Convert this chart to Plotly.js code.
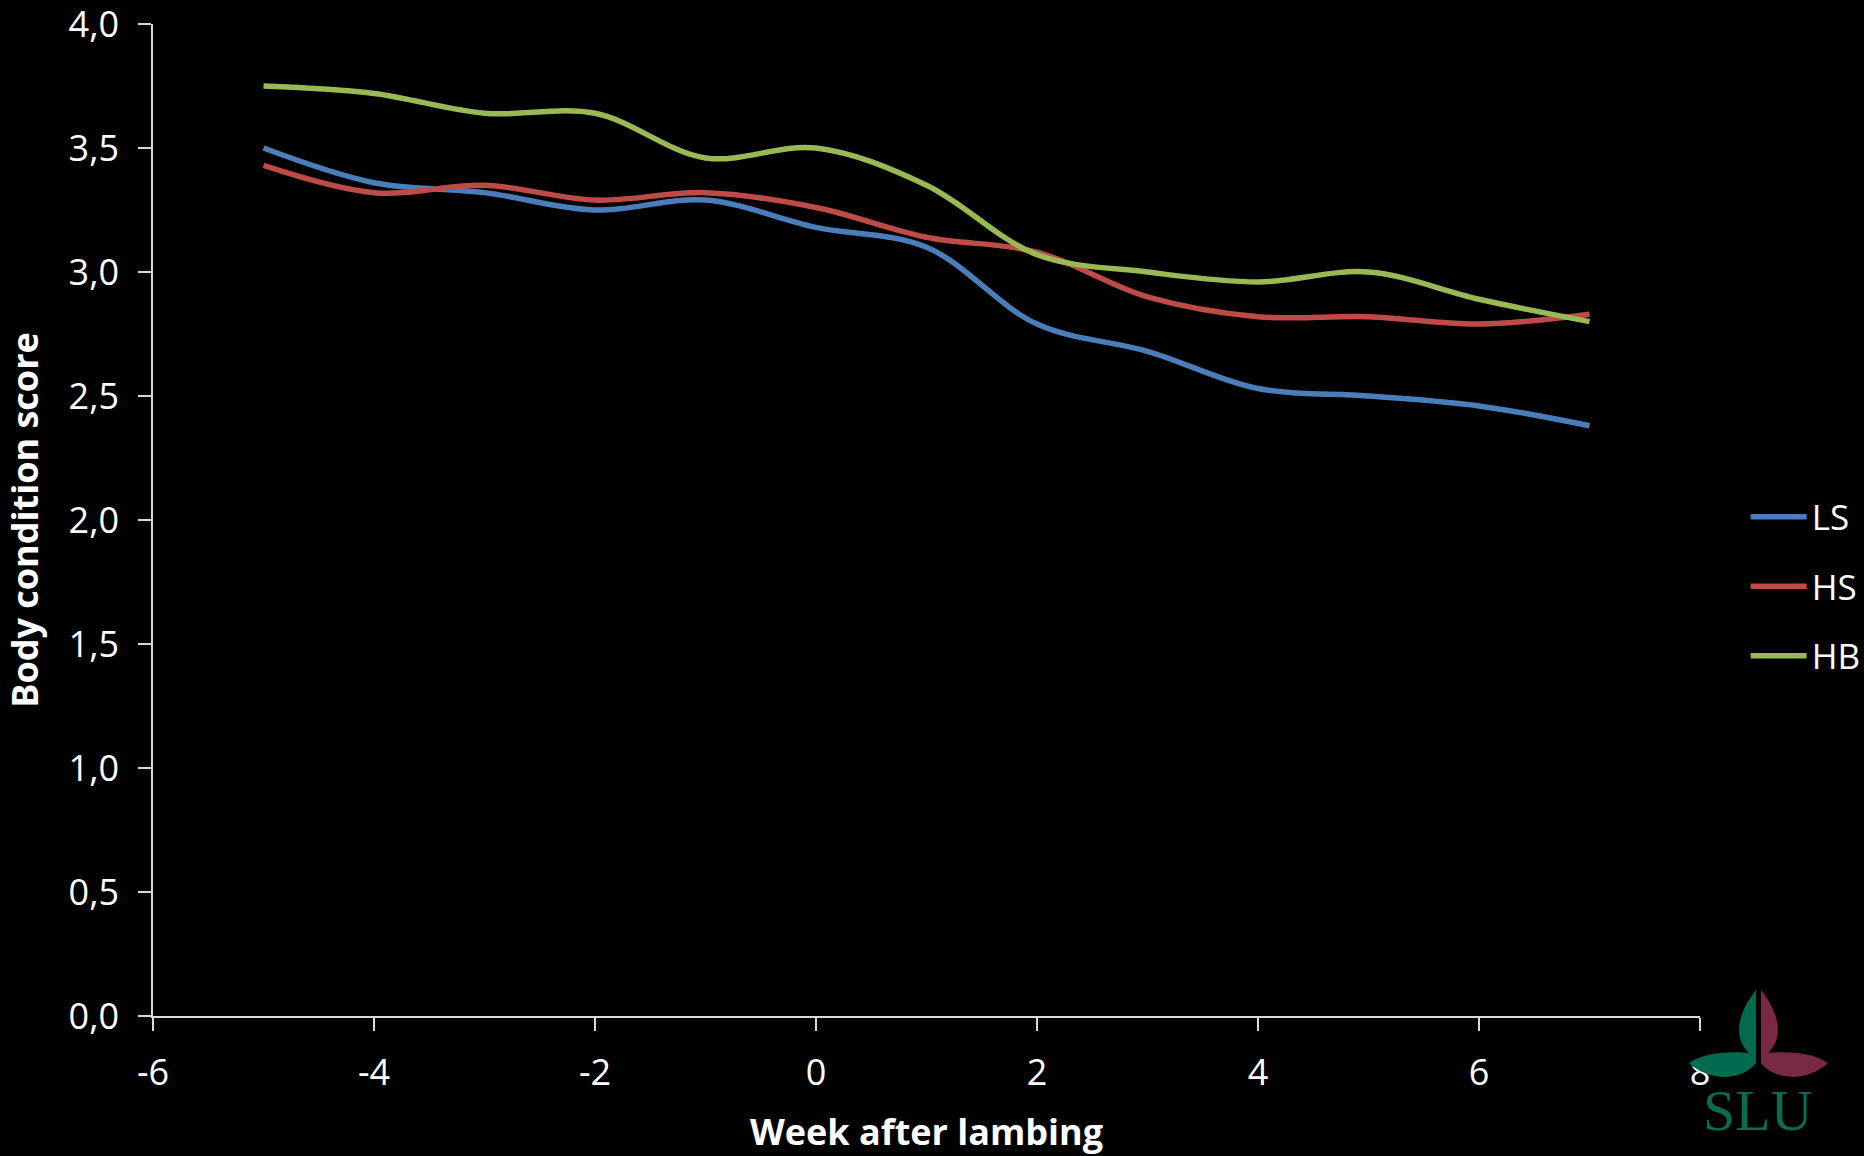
<!DOCTYPE html>
<html>
<head>
<meta charset="utf-8">
<script src="https://cdn.plot.ly/plotly-3.0.1.min.js"></script>
<style>
  html, body { margin: 0; padding: 0; background: #000; }
  #chart { width: 1864px; height: 1156px; }
</style>
</head>
<body>
<div id="chart"></div>
<script>
// ---- data ----
const weeks = [-5, -4, -3, -2, -1, 0, 1, 2, 3, 4, 5, 6, 7];
const seriesNames = ["LS", "HS", "HB"];
const lsValues = [3.50, 3.36, 3.32, 3.25, 3.29, 3.18, 3.10, 2.79, 2.68, 2.53, 2.50, 2.46, 2.38];
const hsValues = [3.43, 3.32, 3.35, 3.29, 3.32, 3.26, 3.14, 3.08, 2.90, 2.82, 2.82, 2.79, 2.83];
const hbValues = [3.75, 3.72, 3.64, 3.64, 3.46, 3.50, 3.35, 3.07, 3.00, 2.96, 3.00, 2.89, 2.80];
const xTickValues = [-6, -4, -2, 0, 2, 4, 6, 8];
const xTickLabels = ["-6", "-4", "-2", "0", "2", "4", "6", "8"];
const yTickValues = [0, 0.5, 1, 1.5, 2, 2.5, 3, 3.5, 4];
const xTitle = "Week after lambing";
const yTitle = "Body condition score";
const logoText = "SLU";

// ---- layout constants ----
const W = 1864, Hh = 1156;
const M = { l: 153, r: 164, t: 24, b: 140, autoexpand: false };
const PW = W - M.l - M.r, PH = Hh - M.t - M.b;
const px = x => ((x - M.l) / PW).toFixed(5);
const py = y => ((M.t + PH - y) / PH).toFixed(5);
const font = "Open Sans, Noto Sans, sans-serif";
const axisColor = "#d9d9d9";
const colors = ["#4a7ebb", "#be4b48", "#98b954"];
const values = [lsValues, hsValues, hbValues];

const traces = seriesNames.map((name, i) => ({
  type: "scatter",
  mode: "lines",
  name: name,
  x: weeks,
  y: values[i],
  legendgroup: "g" + i,
  line: { color: colors[i], width: 5.5, shape: "spline", smoothing: 1 },
  hoverinfo: "x+y+name"
}));

// logo leaf paths (pixel coords -> paper)
function leafPath(mirror) {
  const mx = x => mirror ? (3517 - x) : x;
  const P = (x, y) => px(mx(x)) + "," + py(y);
  return "M" + P(1756, 990) +
    " C" + P(1740, 1010) + " " + P(1731, 1036) + " " + P(1749, 1053) +
    " C" + P(1733, 1051) + " " + P(1704, 1052) + " " + P(1689, 1063) +
    " C" + P(1708, 1081) + " " + P(1741, 1082) + " " + P(1756, 1063) + " Z";
}

const layout = {
  width: W, height: Hh,
  paper_bgcolor: "#000000",
  plot_bgcolor: "#000000",
  separators: ", ",
  margin: M,
  showlegend: true,
  font: { family: font, color: "#ffffff", size: 36 },
  xaxis: {
    range: [-6, 8],
    tickvals: xTickValues,
    ticktext: xTickLabels,
    ticks: "outside", ticklen: 13, tickwidth: 1.5, tickcolor: axisColor,
    showline: true, linecolor: axisColor, linewidth: 2,
    showgrid: false, zeroline: false,
    tickfont: { family: font, size: 36, color: "#ffffff" },
    ticklabelstandoff: 11,
    ticklabeloverflow: "allow",
    title: { text: xTitle, font: { family: font, size: 36, color: "#ffffff", weight: "bold" }, standoff: 26 },
    fixedrange: true
  },
  yaxis: {
    range: [0, 4],
    tickvals: yTickValues,
    tickformat: ".1f",
    ticks: "outside", ticklen: 13, tickwidth: 1.5, tickcolor: axisColor,
    showline: true, linecolor: axisColor, linewidth: 1.5,
    showgrid: false, zeroline: false,
    tickfont: { family: font, size: 36, color: "#ffffff" },
    ticklabelstandoff: 12,
    ticklabeloverflow: "allow",
    title: { text: yTitle, font: { family: font, size: 36, color: "#ffffff", weight: "bold" }, standoff: 19 },
    fixedrange: true
  },
  legend: {
    x: 1.0295, xanchor: "left",
    y: 0.433, yanchor: "middle",
    bgcolor: "rgba(0,0,0,0)",
    font: { family: font, size: 35, color: "#ffffff" },
    itemwidth: 56,
    tracegroupgap: 21,
    traceorder: "grouped"
  },
  shapes: [
    { type: "path", xref: "paper", yref: "paper", path: leafPath(false), fillcolor: "#006b4f", line: { width: 0 }, layer: "above" },
    { type: "path", xref: "paper", yref: "paper", path: leafPath(true), fillcolor: "#7a2945", line: { width: 0 }, layer: "above" }
  ],
  annotations: [
    { xref: "paper", yref: "paper", x: Number(px(1758)), y: Number(py(1110)), xanchor: "center", yanchor: "middle",
      text: logoText, showarrow: false, font: { family: "Liberation Serif, DejaVu Serif, serif", size: 58, color: "#0b6b51" } }
  ]
};

Plotly.newPlot("chart", traces, layout, { displayModeBar: false, staticPlot: false });
</script>
</body>
</html>
